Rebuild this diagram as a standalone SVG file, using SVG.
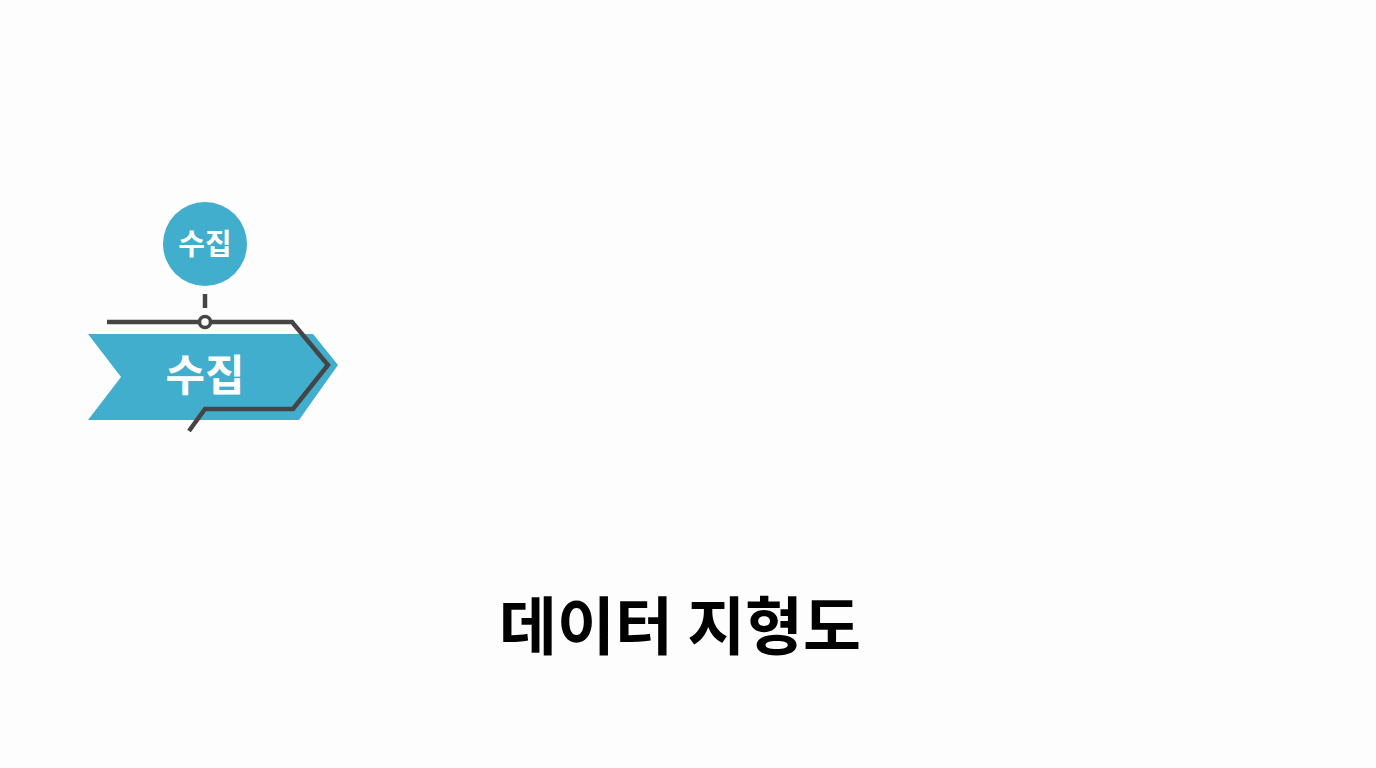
<svg xmlns="http://www.w3.org/2000/svg" width="1376" height="768" viewBox="0 0 1376 768">
<style>
.k{font-family:"Noto Sans CJK KR","Noto Sans",sans-serif;font-weight:700;text-anchor:middle}
.w{fill:#ffffff}
.ln{fill:none;stroke:#454545;stroke-width:4.5;stroke-linejoin:miter}
</style>
<rect width="1376" height="768" fill="#fdfdfd"/>
<g id="circle-node">
<circle cx="205" cy="244" r="42" fill="#41aecd"/>
<text class="k w" x="205" y="255" font-size="29">수집</text>
</g>
<g id="arrow-node">
<polygon points="88,334 313,334 338,365 299,420 88,420 121,377" fill="#41aecd"/>
<text class="k w" x="205" y="391" font-size="43">수집</text>
</g>
<g id="connectors">
<line class="ln" x1="205" y1="294" x2="205" y2="308"/>
<path class="ln" d="M107,322 H200 M210,322 H292 L328,365 L293,409 H205 L189,431"/>
<circle cx="205" cy="322" r="5.5" fill="#fdfdfd" stroke="#454545" stroke-width="3.5"/>
</g>
<g id="title">
<text class="k" x="680" y="649" font-size="63" fill="#000">데이터 지형도</text>
</g>
</svg>
